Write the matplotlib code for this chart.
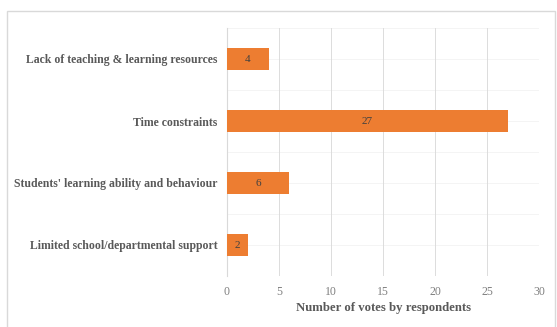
import matplotlib
matplotlib.use("Agg")
import matplotlib.pyplot as plt
from matplotlib.patches import Rectangle

categories = ["Lack of teaching & learning resources",
              "Time constraints",
              "Students' learning ability and behaviour",
              "Limited school/departmental support"]
votes = [4, 27, 6, 2]
xticks = [0, 5, 10, 15, 20, 25, 30]

plt.rcParams['font.family'] = ['Liberation Serif', 'DejaVu Serif']

fig = plt.figure(figsize=(5.57, 3.27), dpi=100)
ax = fig.add_axes([227/557, 51/327, 312/557, 248/327])

# outer chart border
fig.patches.append(Rectangle((7/557, -0.05), 548/557, 1.05 - 11/327,
                             transform=fig.transFigure, fill=False,
                             edgecolor='#d9d9d9', linewidth=1))

y = list(range(len(categories)))
bars = ax.barh(y, votes, height=0.35, color='#ED7D31', zorder=3)
for b, v in zip(bars, votes):
    ax.text(b.get_width() / 2, b.get_y() + b.get_height() / 2, str(v),
            ha='center', va='center', fontsize=8, color='#404040', zorder=4)

ax.set_ylim(len(categories) - 0.5, -0.5)
ax.set_xlim(0, 30)
ax.set_xticks(xticks)
ax.set_xticklabels([str(t) for t in xticks], fontsize=8.5, color='#7f7f7f')
ax.set_yticks(y)
ax.set_yticklabels(categories, fontsize=8.5, fontweight='bold', color='#595959')
ax.tick_params(length=0, pad=7)
ax.tick_params(axis='y', pad=7)

ax.grid(axis='x', color='#dcdcdc', linewidth=0.7, zorder=0)
for k in [i * 0.5 - 0.5 for i in range(2 * len(categories) + 1)]:
    ax.axhline(k, color='#f3f3f3', linewidth=0.6, zorder=0)
for s in ['top', 'right', 'bottom']:
    ax.spines[s].set_visible(False)
ax.spines['left'].set_color('#d9d9d9')

ax.set_xlabel("Number of votes by respondents", fontsize=9.2,
              fontweight='bold', color='#595959', labelpad=3)

fig.savefig("out.png", dpi=100)
